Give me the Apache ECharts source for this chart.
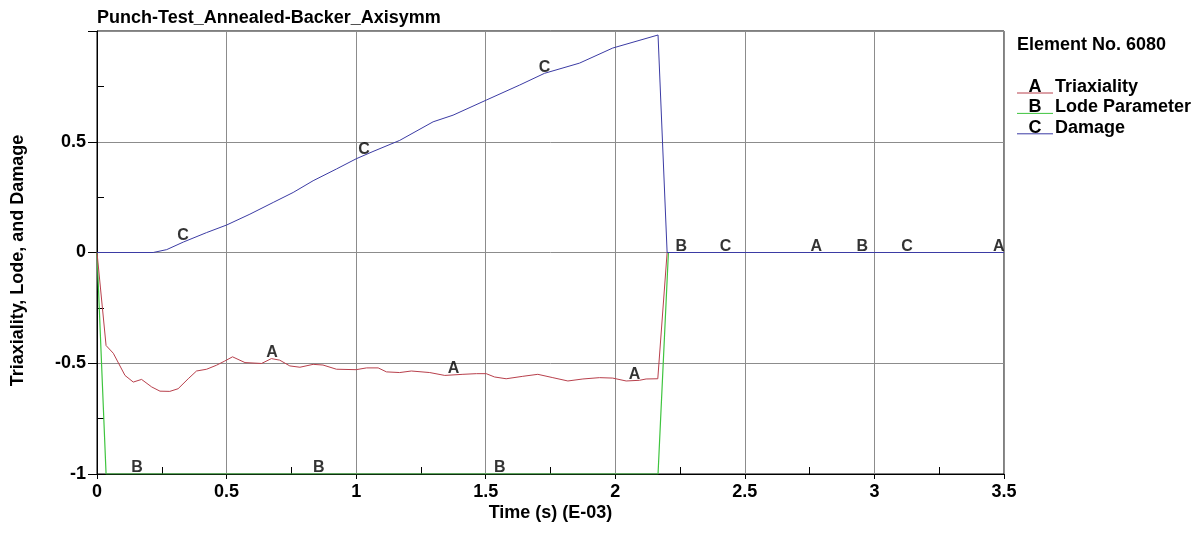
<!DOCTYPE html>
<html>
<head>
<meta charset="utf-8">
<title>Punch-Test_Annealed-Backer_Axisymm</title>
<script src="https://cdn.jsdelivr.net/npm/echarts@6/dist/echarts.min.js"></script>
<style>
  html, body { margin: 0; padding: 0; background: #ffffff; }
  #main { width: 1203px; height: 540px; }
</style>
</head>
<body>
<div id="main"></div>
<script>
// values, time in E-03 s
const triaxiality = [
  [0, 0], [0.035, -0.42], [0.063, -0.455], [0.108, -0.555], [0.14, -0.585], [0.172, -0.573],
  [0.211, -0.607], [0.243, -0.626], [0.281, -0.627], [0.313, -0.615], [0.352, -0.57],
  [0.384, -0.535], [0.423, -0.527], [0.461, -0.509], [0.493, -0.49], [0.523, -0.471],
  [0.571, -0.497], [0.635, -0.501], [0.673, -0.479], [0.705, -0.486], [0.744, -0.512],
  [0.783, -0.518], [0.834, -0.505], [0.872, -0.508], [0.924, -0.527], [1.0, -0.529],
  [1.04, -0.521], [1.085, -0.521], [1.117, -0.539], [1.168, -0.542], [1.213, -0.535],
  [1.284, -0.542], [1.342, -0.555], [1.412, -0.55], [1.464, -0.547], [1.502, -0.547],
  [1.534, -0.562], [1.579, -0.57], [1.643, -0.559], [1.701, -0.55], [1.759, -0.565],
  [1.817, -0.58], [1.875, -0.571], [1.939, -0.565], [1.99, -0.567], [2.042, -0.58],
  [2.093, -0.577], [2.119, -0.571], [2.164, -0.57], [2.2, 0], [3.5, 0]
];
const lode = [
  [0, 0], [0.035, -1], [2.165, -1], [2.205, 0], [3.5, 0]
];
const damage = [
  [0, 0], [0.217, 0], [0.269, 0.013], [0.333, 0.047], [0.423, 0.09], [0.5, 0.124],
  [0.59, 0.173], [0.68, 0.226], [0.757, 0.271], [0.834, 0.324], [0.924, 0.377],
  [1.0, 0.423], [1.065, 0.456], [1.168, 0.506], [1.297, 0.59], [1.374, 0.62],
  [1.502, 0.688], [1.631, 0.756], [1.727, 0.809], [1.862, 0.855], [1.99, 0.923],
  [2.165, 0.982], [2.2, 0], [3.5, 0]
];

// curve letters, as printed on the plot
const letterA = [[0.675, -0.48], [1.376, -0.552], [2.074, -0.578], [2.776, 0], [3.48, 0]];
const letterB = [[0.154, -1], [0.856, -1], [1.554, -1], [2.255, 0], [2.953, 0]];
const letterC = [[0.332, 0.047], [1.03, 0.438], [1.727, 0.809], [2.425, 0], [3.126, 0]];

const seriesNames = ['Triaxiality', 'Lode Parameter', 'Damage'];
const seriesLetters = ['A', 'B', 'C'];
const colors = ['#b8404c', '#3ec43e', '#3b3ba4'];

const chart = echarts.init(document.getElementById('main'));

const FONT = 'Liberation Sans, Arial, sans-serif';
const bold = { fontFamily: FONT, fontWeight: 'bold', fontSize: 18, color: '#000' };

function letterSeries(data, letter) {
  return {
    type: 'scatter',
    data: data,
    symbolSize: 0,
    silent: true,
    z: 5,
    label: {
      show: true,
      position: 'top',
      distance: -2,
      formatter: letter,
      fontFamily: FONT,
      fontWeight: 'bold',
      fontSize: 16,
      color: '#000'
    }
  };
}

// legend drawn by hand: letter sits on a coloured underline
const legendGraphic = [{
  type: 'text', x: 1017, y: 45,
  style: { text: 'Element No. 6080', font: 'bold 18px ' + FONT, fill: '#000', verticalAlign: 'middle' }
}];
seriesNames.forEach(function (name, i) {
  const y = 93 + i * 20.4;
  legendGraphic.push({
    type: 'line', shape: { x1: 1017, y1: y, x2: 1053, y2: y },
    style: { stroke: colors[i], lineWidth: 1 }
  });
  legendGraphic.push({
    type: 'text', x: 1035, y: y - 6,
    style: { text: seriesLetters[i], font: 'bold 18px ' + FONT, fill: '#000', align: 'center', verticalAlign: 'middle' }
  });
  legendGraphic.push({
    type: 'text', x: 1055, y: y - 6,
    style: { text: name, font: 'bold 18px ' + FONT, fill: '#000', verticalAlign: 'middle' }
  });
});

const option = {
  animation: false,
  backgroundColor: '#ffffff',
  title: {
    text: 'Punch-Test_Annealed-Backer_Axisymm',
    left: 92,
    top: 4,
    textStyle: { fontFamily: FONT, fontWeight: 'bold', fontSize: 18, color: '#000' }
  },
  grid: {
    left: 97, right: 199, top: 31, bottom: 66,
    show: true, borderColor: '#000', borderWidth: 1
  },
  graphic: legendGraphic,
  xAxis: [{
    type: 'value',
    min: 0, max: 3.5, interval: 0.5,
    name: 'Time (s) (E-03)',
    nameLocation: 'middle',
    nameGap: 30,
    nameMoveOverlap: false,
    nameTextStyle: bold,
    axisLine: { show: true, onZero: false, lineStyle: { color: '#000' } },
    axisTick: { show: true, length: 5, lineStyle: { color: '#000' } },
    axisLabel: Object.assign({ margin: 9 }, bold),
    splitLine: { show: true, lineStyle: { color: '#8c8c8c', width: 1 } }
  }, {
    type: 'value',
    position: 'bottom',
    min: 0, max: 3.5, interval: 0.5,
    axisLine: { show: false, onZero: false },
    axisTick: { show: false, inside: true },
    minorTick: { show: true, splitNumber: 2, length: 7, lineStyle: { color: '#000' } },
    axisLabel: { show: false },
    splitLine: { show: false }
  }],
  yAxis: [{
    type: 'value',
    min: -1, max: 1, interval: 0.5,
    name: 'Triaxiality, Lode, and Damage',
    nameLocation: 'middle',
    nameGap: 70,
    nameTextStyle: Object.assign({ padding: [0, 16, 0, 0] }, bold),
    axisLine: { show: true, onZero: false, lineStyle: { color: '#000' } },
    axisTick: { show: true, length: 9, lineStyle: { color: '#000' } },
    axisLabel: Object.assign({
      margin: 11,
      formatter: function (v) { return v === 1 ? '' : String(v); }
    }, bold),
    splitLine: { show: true, lineStyle: { color: '#8c8c8c', width: 1 } }
  }, {
    type: 'value',
    position: 'left',
    min: -1, max: 1, interval: 0.5,
    axisLine: { show: false, onZero: false },
    axisTick: { show: false, inside: true },
    minorTick: { show: true, splitNumber: 2, length: 7, lineStyle: { color: '#000' } },
    axisLabel: { show: false },
    splitLine: { show: false }
  }],
  series: [
    {
      name: seriesNames[0], type: 'line', data: triaxiality, showSymbol: false,
      lineStyle: { color: colors[0], width: 1 }, z: 3
    },
    {
      name: seriesNames[1], type: 'line', data: lode, showSymbol: false,
      lineStyle: { color: colors[1], width: 1.2 }, z: 2
    },
    {
      name: seriesNames[2], type: 'line', data: damage, showSymbol: false,
      lineStyle: { color: colors[2], width: 1 }, z: 4
    },
    letterSeries(letterA, 'A'),
    letterSeries(letterB, 'B'),
    letterSeries(letterC, 'C')
  ]
};

chart.setOption(option);
</script>
</body>
</html>
